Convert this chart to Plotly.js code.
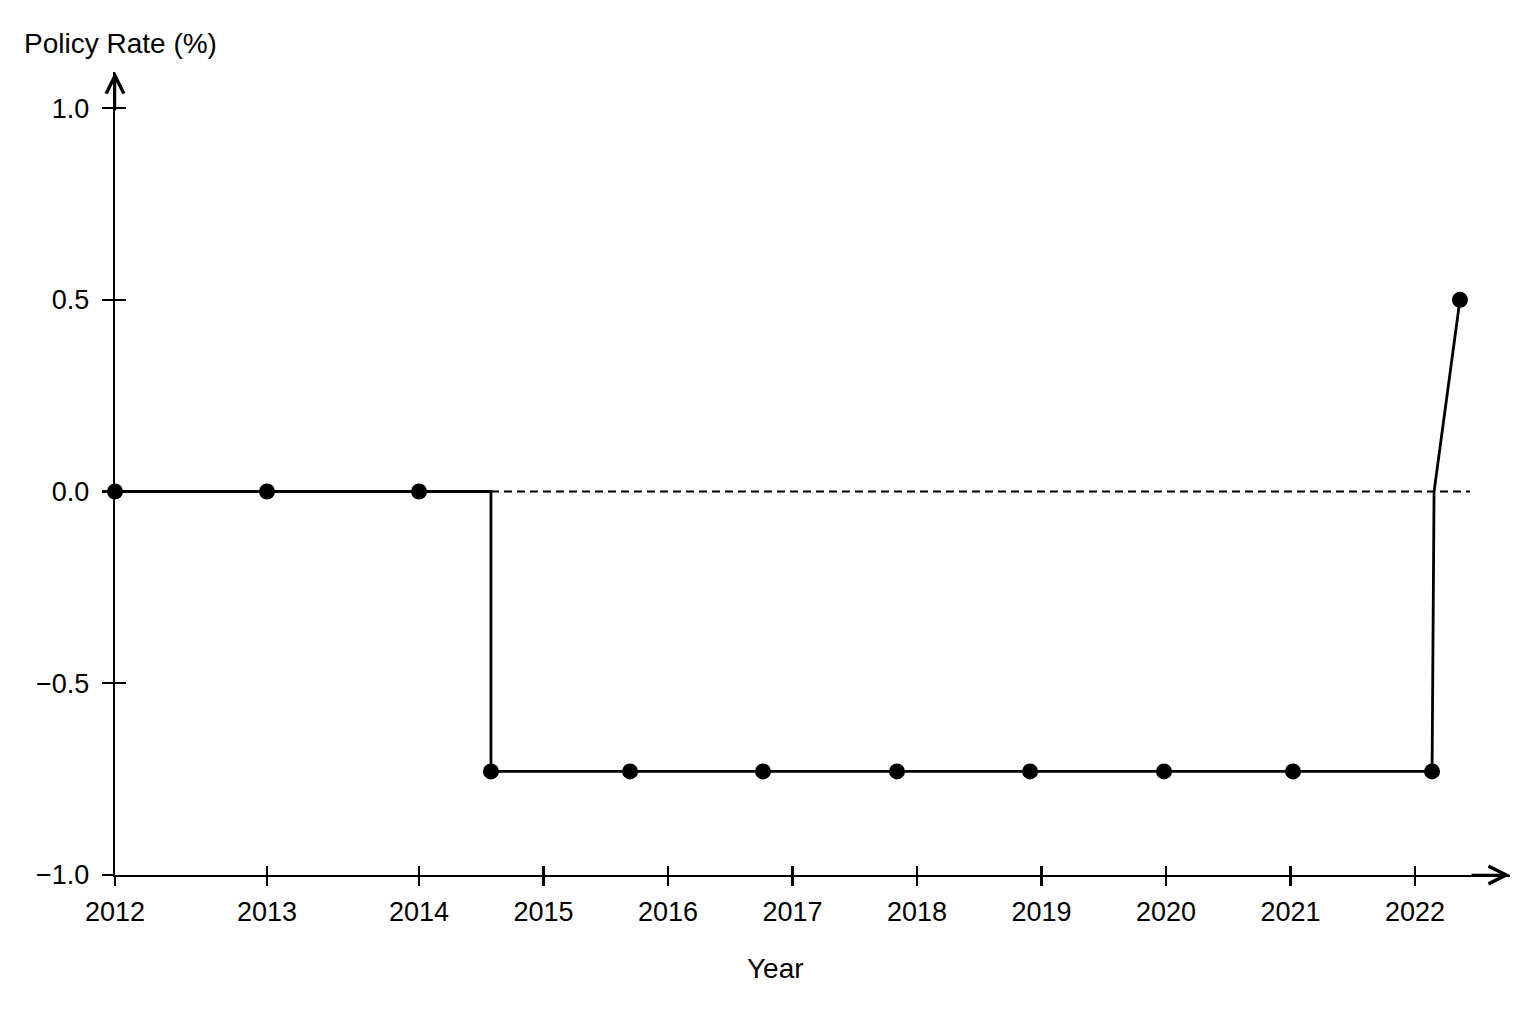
<!DOCTYPE html>
<html>
<head>
<meta charset="utf-8">
<script src="https://cdn.plot.ly/plotly-3.0.1.min.js"></script>
<style>
  html, body { margin: 0; padding: 0; background: #fff; }
  #chart { width: 1536px; height: 1024px; }
</style>
</head>
<body>
<div id="chart"></div>
<script>
var pointYears = [2012, 2013, 2014, 2014.578, 2015.695, 2016.763, 2017.839, 2018.908, 2019.984, 2021.02, 2022.137, 2022.361];
var pointRates = [0, 0, 0, -0.73, -0.73, -0.73, -0.73, -0.73, -0.73, -0.73, -0.73, 0.5];

// the drawn path also passes through two unmarked corners
var pathYears = [2012, 2013, 2014, 2014.578, 2014.578, 2015.695, 2016.763, 2017.839, 2018.908, 2019.984, 2021.02, 2022.137, 2022.153, 2022.361];
var pathRates = [0, 0, 0, 0, -0.73, -0.73, -0.73, -0.73, -0.73, -0.73, -0.73, -0.73, 0, 0.5];

// dashed zero reference line
var zeroYears = [2014.578, 2022.442];
var zeroRates = [0, 0];

var tickYears = [2012, 2013, 2014, 2015, 2016, 2017, 2018, 2019, 2020, 2021, 2022];
var yTicks = [-1, -0.5, 0, 0.5, 1];
var yTickText = ["\u22121.0", "\u22120.5", "0.0", "0.5", "1.0"];

// the x axis is not uniform: 2012-2014 are spaced wider than later years
var warpYears = [2012, 2014, 2023];
var warpPos = [0, 2.442, 11.442];

function toAxis(yr) {
    for (var i = 0; i < warpYears.length - 1; i++) {
        if (yr <= warpYears[i + 1] || i == warpYears.length - 2) {
            var t = (yr - warpYears[i]) / (warpYears[i + 1] - warpYears[i]);
            return warpPos[i] + t * (warpPos[i + 1] - warpPos[i]);
        }
    }
}

var xRange = [0, 11.205];
var yRange = [-1, 1.094];
var font = "Liberation Sans, Arial, sans-serif";
var ink = "#000";

var data = [
    {
        type: "scatter", mode: "lines",
        x: zeroYears.map(toAxis), y: zeroRates,
        line: {color: ink, width: 1.8, dash: "8px,5px"},
        hoverinfo: "skip", showlegend: false
    },
    {
        type: "scatter", mode: "lines",
        x: pathYears.map(toAxis), y: pathRates,
        line: {color: ink, width: 2.8},
        cliponaxis: false,
        hoverinfo: "skip", showlegend: false
    },
    {
        type: "scatter", mode: "markers",
        x: pointYears.map(toAxis), y: pointRates,
        marker: {color: ink, size: 16},
        cliponaxis: false,
        showlegend: false
    },
    // empty trace so the overlay axes (inner tick halves) exist
    {
        type: "scatter", mode: "markers",
        x: [], y: [], xaxis: "x2", yaxis: "y2",
        showlegend: false, hoverinfo: "skip"
    }
];

var baseX = {
    range: xRange, autorange: false, fixedrange: true,
    tickmode: "array", tickvals: tickYears.map(toAxis),
    ticklen: 9, tickwidth: 2.2, tickcolor: ink,
    showgrid: false, zeroline: false
};
var baseY = {
    range: yRange, autorange: false, fixedrange: true,
    tickmode: "array", tickvals: yTicks,
    ticklen: 11, tickwidth: 2.2, tickcolor: ink,
    showgrid: false, zeroline: false
};

var layout = {
    width: 1536, height: 1024,
    paper_bgcolor: "#fff", plot_bgcolor: "#fff",
    margin: {l: 115, r: 26, t: 72, b: 149},
    font: {family: font, size: 27, color: ink},
    showlegend: false,
    title: {
        text: "Policy Rate (%)",
        x: 24 / 1536, xanchor: "left", xref: "container",
        y: 1 - 43 / 1024, yanchor: "middle", yref: "container",
        font: {family: font, size: 28, color: ink}
    },
    xaxis: Object.assign({}, baseX, {
        ticks: "outside", ticktext: tickYears.map(String),
        showline: true, linecolor: ink, linewidth: 2.4,
        ticklabelstandoff: 2
    }),
    yaxis: Object.assign({}, baseY, {
        ticks: "outside", ticktext: yTickText,
        showline: true, linecolor: ink, linewidth: 2.4,
        ticklabelstandoff: 7
    }),
    xaxis2: Object.assign({}, baseX, {
        overlaying: "x", anchor: "y2", side: "bottom",
        ticks: "inside", showticklabels: false, showline: false
    }),
    yaxis2: Object.assign({}, baseY, {
        overlaying: "y", anchor: "x2", side: "left",
        ticks: "inside", showticklabels: false, showline: false
    }),
    annotations: [
        // arrow heads on the axis ends
        {
            xref: "paper", yref: "paper", x: 1, y: 0,
            ax: -40, ay: 0, text: "", showarrow: true,
            arrowhead: 5, arrowsize: 1.45, arrowwidth: 2.4, arrowcolor: ink
        },
        {
            xref: "paper", yref: "paper", x: 0, y: 1,
            ax: 0, ay: 40, text: "", showarrow: true,
            arrowhead: 5, arrowsize: 1.45, arrowwidth: 2.4, arrowcolor: ink
        },
        {
            xref: "paper", yref: "paper",
            x: (775 - 115) / 1395, y: -(968 - 875) / 803,
            xanchor: "center", yanchor: "middle",
            text: "Year", showarrow: false,
            font: {family: font, size: 28, color: ink}
        }
    ]
};

Plotly.newPlot("chart", data, layout, {displayModeBar: false, staticPlot: true});
</script>
</body>
</html>
